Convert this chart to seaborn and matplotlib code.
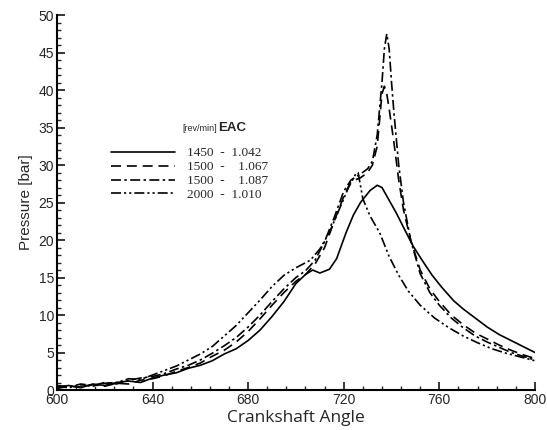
import numpy as np
import pandas as pd
import matplotlib
matplotlib.use("Agg")
import matplotlib.pyplot as plt
import seaborn as sns
from matplotlib.ticker import MultipleLocator

# crank angle [deg] and pressure [bar]
angle_1450 = [600, 605, 610, 615, 620, 625, 630, 635, 640, 645, 650, 655, 660, 665, 670, 675,
              680, 685, 690, 695, 700, 704, 707, 710, 714, 717, 721, 724, 727, 731, 734, 736,
              739, 742, 745, 749, 753, 757, 761, 766, 770, 775, 780, 785, 790, 795, 800]
p_1450 = [0.4, 0.6, 0.3, 0.8, 0.6, 1.0, 1.2, 1.0, 1.6, 2.0, 2.3, 2.9, 3.3, 3.9, 4.8, 5.5,
          6.6, 8.0, 9.8, 11.8, 14.2, 15.4, 16.0, 15.6, 16.1, 17.5, 21.0, 23.3, 25.0, 26.6, 27.3, 27.0,
          25.3, 23.6, 21.7, 19.2, 17.2, 15.3, 13.7, 11.9, 10.8, 9.6, 8.4, 7.4, 6.6, 5.8, 5.0]

angle_1500a = [600, 605, 610, 615, 620, 625, 630, 635, 640, 645, 650, 655, 660, 665, 670, 675,
               680, 685, 690, 695, 700, 704, 708, 712, 716, 720, 723, 727, 730, 732, 734, 735,
               736, 737, 738, 739, 741, 743, 745, 748, 752, 756, 760, 765, 770, 775, 780, 785,
               790, 795, 800]
p_1500a = [0.2, 0.5, 0.4, 0.7, 0.5, 0.9, 0.8, 1.3, 1.5, 1.9, 2.5, 3.0, 3.6, 4.5, 5.3, 6.4,
           7.8, 9.5, 11.3, 13.0, 14.5, 15.4, 16.8, 19.0, 22.5, 25.8, 27.8, 28.3, 29.0, 30.0, 32.5, 36.0,
           39.5, 40.5, 39.5, 37.5, 33.0, 28.0, 24.0, 20.0, 16.0, 13.5, 11.8, 10.0, 8.7, 7.6, 6.8, 6.0,
           5.3, 4.7, 4.2]

angle_1500b = [600, 605, 610, 615, 620, 625, 630, 635, 640, 645, 650, 655, 660, 665, 670, 675,
               680, 685, 690, 695, 700, 704, 708, 712, 716, 720, 723, 727, 730, 732, 734, 736,
               737, 738, 739, 740, 741, 742, 743, 745, 748, 752, 756, 760, 765, 770, 775, 780,
               785, 790, 795, 800]
p_1500b = [0.6, 0.4, 0.8, 0.6, 1.0, 0.8, 1.3, 1.6, 1.8, 2.2, 2.8, 3.3, 4.0, 4.9, 5.9, 7.0,
           8.4, 10.0, 11.8, 13.5, 15.0, 15.9, 17.3, 19.8, 23.0, 26.5, 28.0, 28.8, 29.5, 30.5, 34.0, 41.0,
           45.5, 47.5, 45.5, 41.0, 37.0, 33.5, 30.0, 25.0, 20.0, 15.5, 13.0, 11.3, 9.6, 8.3, 7.2, 6.4,
           5.7, 5.0, 4.5, 4.0]

angle_2000 = [600, 605, 610, 615, 620, 625, 630, 635, 640, 645, 650, 655, 660, 665, 670, 675,
              680, 685, 690, 695, 700, 703, 706, 710, 714, 718, 722, 725, 726, 728, 731, 735,
              739, 743, 747, 752, 758, 764, 770, 776, 782, 788, 794, 800]
p_2000 = [0.5, 0.3, 0.7, 0.5, 0.9, 1.0, 1.5, 1.4, 2.0, 2.6, 3.2, 4.0, 4.8, 5.8, 7.2, 8.6,
          10.3, 12.0, 13.8, 15.3, 16.3, 16.8, 17.3, 18.8, 21.0, 24.0, 27.0, 28.8, 29.0, 25.5, 23.2, 21.0,
          17.8, 15.3, 13.2, 11.3, 9.6, 8.3, 7.2, 6.3, 5.5, 4.9, 4.4, 3.9]

labels = ["1450  -  1.042", "1500  -    1.067", "1500  -    1.087", "2000  -  1.010"]

series = [(angle_1450, p_1450), (angle_1500a, p_1500a), (angle_1500b, p_1500b), (angle_2000, p_2000)]
dash_styles = [(None), (6, 3.5), (6, 2, 1.5, 2), (6, 1.8, 1.3, 1.8, 1.3, 1.8)]

sns.set_style("ticks")
fig = plt.figure(figsize=(5.47, 4.30), dpi=100)
ax = fig.add_axes([0.104, 0.093, 0.874, 0.872])

handles = []
for (ang, pr), lab, dsh in zip(series, labels, dash_styles):
    df = pd.DataFrame({"angle": ang, "pressure": pr})
    sns.lineplot(data=df, x="angle", y="pressure", ax=ax, color="black", linewidth=1.2)
    line = ax.lines[-1]
    if dsh is not None:
        line.set_dashes(dsh)
    handles.append(line)

ax.set_xlim(600, 800)
ax.set_ylim(0, 50)
ax.xaxis.set_major_locator(MultipleLocator(40))
ax.xaxis.set_minor_locator(MultipleLocator(8))
ax.yaxis.set_major_locator(MultipleLocator(5))
ax.yaxis.set_minor_locator(MultipleLocator(1))
ax.tick_params(which="major", direction="in", length=6, width=1.3, labelsize=10, pad=2)
ax.tick_params(which="minor", direction="in", length=3, width=1.0)
for t in ax.get_xticklabels() + ax.get_yticklabels():
    t.set_fontfamily("Liberation Sans")
sns.despine(ax=ax)
for s in ["left", "bottom"]:
    ax.spines[s].set_linewidth(1.5)
    ax.spines[s].set_color("black")

ax.set_xlabel("Crankshaft Angle", fontsize=12.5, family="Open Sans", labelpad=2)
ax.set_ylabel("Pressure [bar]", fontsize=11, family="Liberation Sans", labelpad=4)

leg = ax.legend(handles, labels, loc="upper left", bbox_to_anchor=(0.1, 0.665),
                frameon=False, handlelength=4.8, handletextpad=0.9, labelspacing=0.12,
                borderpad=0, prop={"family": "Liberation Serif", "size": 9.5})

ax.text(0.262, 0.685, "[rev/min]", transform=ax.transAxes, fontsize=6.5,
        family="Liberation Sans", va="bottom")
ax.text(0.338, 0.683, "EAC", transform=ax.transAxes, fontsize=9.5,
        family="Liberation Sans", fontweight="bold", va="bottom")

fig.savefig("out.png", dpi=100)
